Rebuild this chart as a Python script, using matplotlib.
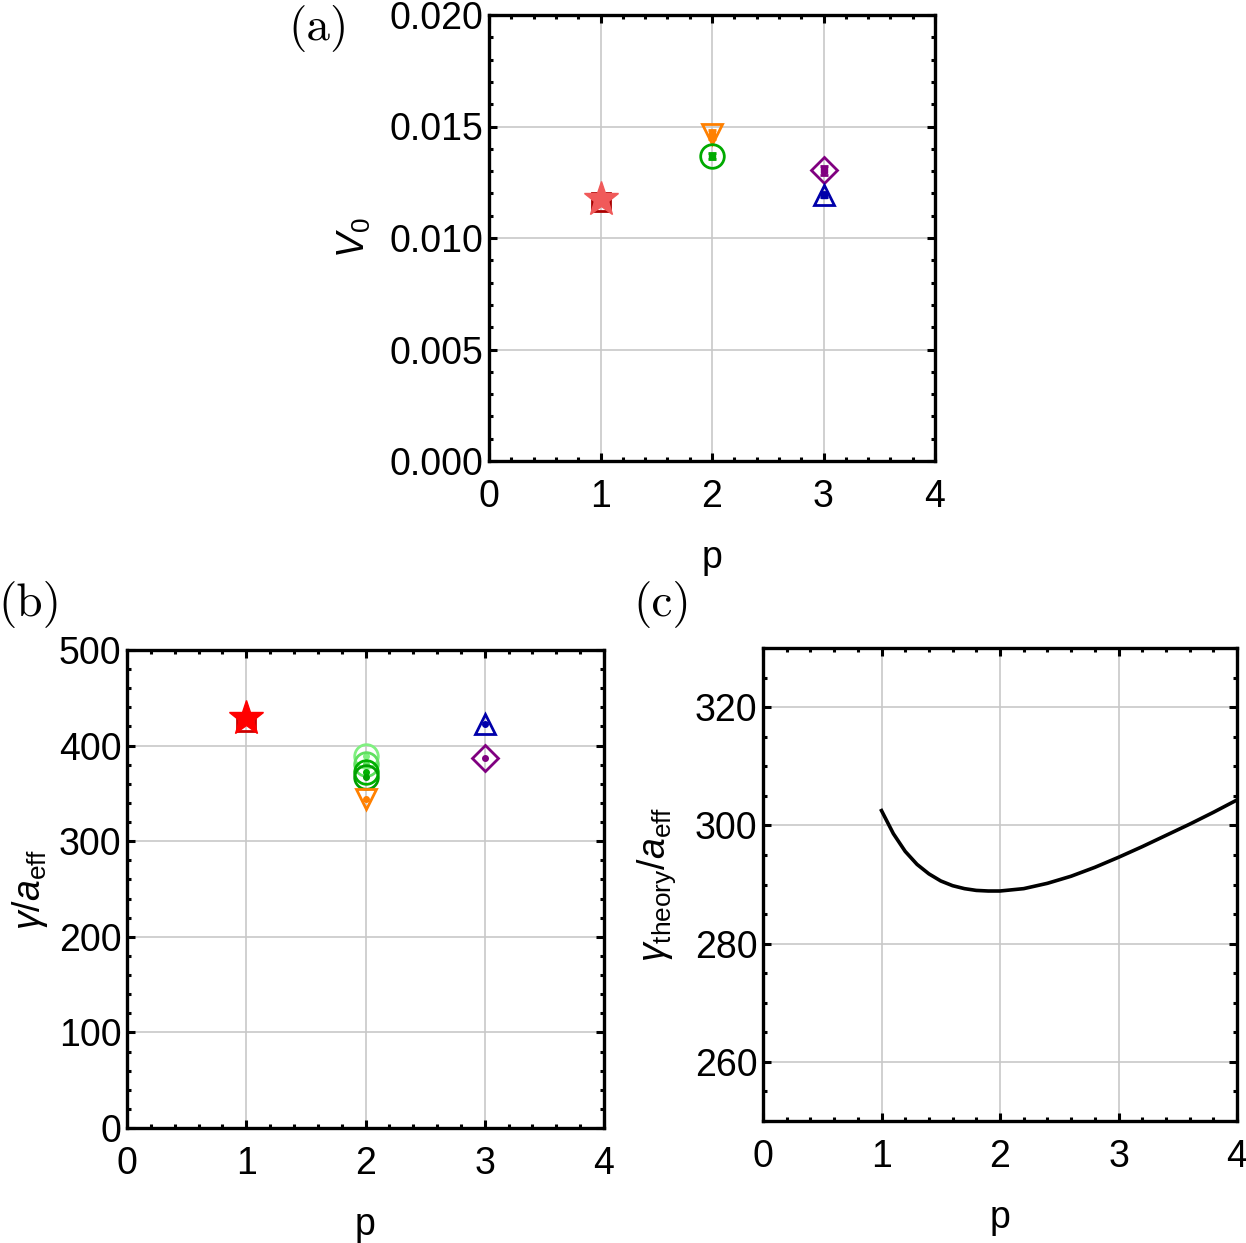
import matplotlib
matplotlib.use("Agg")
import matplotlib.pyplot as plt
import numpy as np
from matplotlib.ticker import MultipleLocator, FormatStrFormatter

plt.rcParams['font.family'] = ['Liberation Sans', 'DejaVu Sans']
plt.rcParams['mathtext.fontset'] = 'custom'
plt.rcParams['mathtext.rm'] = 'Liberation Sans'
plt.rcParams['mathtext.it'] = 'Liberation Sans:italic'

# ---- panel (a) data: V0 vs p ----
a_p = [1, 2, 2, 3, 3]
a_v0 = [0.01175, 0.01466, 0.01368, 0.01303, 0.01195]
a_err = [0.0001, 0.0002, 0.00013, 0.0002, 0.00012]
a_markers = ['*', 'v', 'o', 'D', '^']
a_colors = ['#F05A5A', '#FF8000', '#00AA00', '#800080', '#0000AA']
a_sq_p = [1]
a_sq_v = [0.01160]

# ---- panel (b) data: gamma/a_eff vs p ----
b_p = [1, 2, 2, 2, 2, 2, 3, 3]
b_g = [429, 389, 381, 372, 367, 344, 423, 387]
b_markers = ['*', 'o', 'o', 'o', 'o', 'v', '^', 'D']
b_colors = ['#FF0000', '#80F080', '#60E060', '#00B000', '#00A000', '#FF8000', '#0000AA', '#800080']
b_sq_p = [1]
b_sq_g = [425]

# ---- panel (c) data: theory curve ----
c_p = [1.0, 1.1, 1.2, 1.3, 1.4, 1.5, 1.6, 1.7, 1.8, 1.9, 2.0, 2.2, 2.4, 2.6, 2.8, 3.0,
       3.2, 3.4, 3.6, 3.8, 4.0]
c_g = [302.5, 298.6, 295.6, 293.4, 291.8, 290.6, 289.8, 289.3, 289.0, 288.9, 288.9,
       289.3, 290.2, 291.4, 292.9, 294.6, 296.4, 298.3, 300.2, 302.2, 304.3]

fig = plt.figure(figsize=(12.46, 12.43), dpi=100)

def style(ax, ymaj, ymin):
    ax.set_xlim(0, 4)
    ax.xaxis.set_major_locator(MultipleLocator(1))
    ax.xaxis.set_minor_locator(MultipleLocator(0.2))
    ax.yaxis.set_major_locator(MultipleLocator(ymaj))
    ax.yaxis.set_minor_locator(MultipleLocator(ymin))
    ax.tick_params(which='both', direction='in', top=True, right=True, width=2.2,
                   labelsize=27, colors='black')
    ax.tick_params(which='major', length=6)
    ax.tick_params(which='minor', length=3)
    ax.tick_params(axis='x', which='major', pad=13)
    ax.tick_params(axis='y', which='major', pad=4)
    for s in ax.spines.values():
        s.set_linewidth(2.4)
    ax.grid(True, which='major', color='#c8c8c8', linewidth=1.2)
    ax.set_axisbelow(True)

# panel (a)
axa = fig.add_axes([489/1246, 1-461/1243, 446/1246, 446/1243])
style(axa, 0.005, 0.001)
axa.set_ylim(0, 0.020)
axa.yaxis.set_major_formatter(FormatStrFormatter('%.3f'))
axa.plot(a_sq_p, a_sq_v, 's', ms=13, mfc='none', mec='#AA0000', mew=2)
for x, y, e, m, c in zip(a_p, a_v0, a_err, a_markers, a_colors):
    if m == '*':
        axa.plot(x, y, m, ms=26, color=c)
    else:
        ms = {'v': 15, 'o': 17, 'D': 13, '^': 15}[m]
        axa.plot(x, y, m, ms=ms, mfc='none', mec=c, mew=2)
        axa.errorbar(x, y, yerr=e, fmt='s', ms=4, color=c, capsize=3, elinewidth=3, capthick=2)
axa.set_xlabel('p', fontsize=27, labelpad=18)
axa.set_ylabel(r'$V_0$', fontsize=27, labelpad=12)

# panel (b)
axb = fig.add_axes([127/1246, 1-1128/1243, 477/1246, 478/1243])
style(axb, 100, 20)
axb.set_ylim(0, 500)
axb.plot(b_sq_p, b_sq_g, 's', ms=13, mfc='none', mec='#CC0000', mew=2)
for x, y, m, c in zip(b_p, b_g, b_markers, b_colors):
    if m == '*':
        axb.plot(x, y, m, ms=26, color=c)
    else:
        ms = {'v': 15, 'o': 17, 'D': 13, '^': 15}[m]
        axb.plot(x, y, m, ms=ms, mfc='none', mec=c, mew=2)
        axb.plot(x, y, 'o', ms=4, color=c)
axb.set_xlabel('p', fontsize=27, labelpad=18)
axb.set_ylabel(r'$\gamma/a_{\mathrm{eff}}$', fontsize=27, labelpad=6)

# panel (c)
axc = fig.add_axes([763/1246, 1-1121/1243, 474/1246, 473/1243])
style(axc, 20, 5)
axc.set_ylim(250, 330)
axc.plot(c_p, c_g, color='black', lw=2.6)
axc.set_xlabel('p', fontsize=27, labelpad=18)
axc.set_ylabel(r'$\gamma_{\mathrm{theory}}/a_{\mathrm{eff}}$', fontsize=27, labelpad=12)

# panel labels
for txt, x, y in [('(a)', 319, 28), ('(b)', 30, 605), ('(c)', 662, 605)]:
    fig.text(x/1246, 1-y/1243, txt, fontsize=34, family='cmr10',
             ha='center', va='center')

fig.savefig('out.png', dpi=100)
